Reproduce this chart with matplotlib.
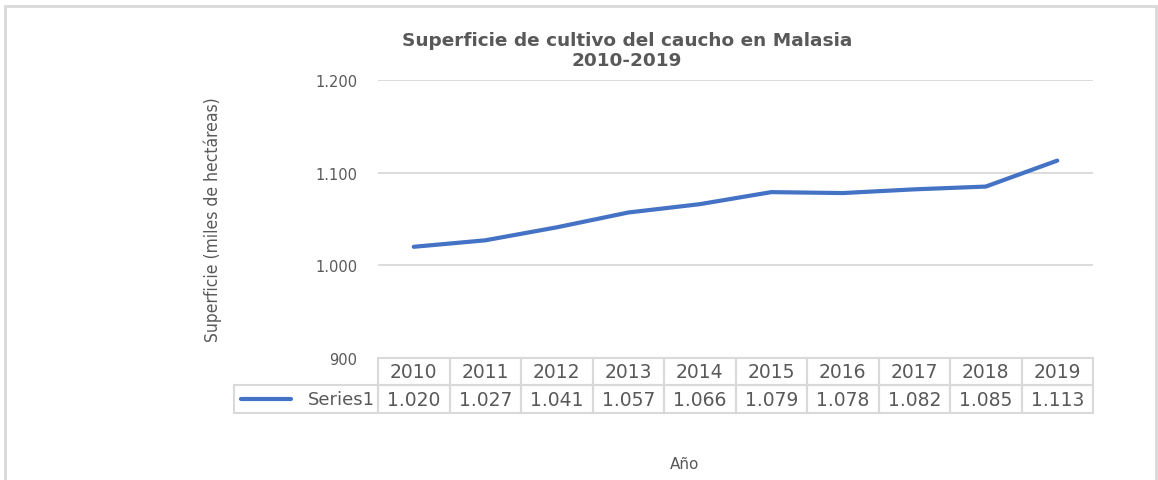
import matplotlib.pyplot as plt
from matplotlib.patches import Rectangle
from matplotlib.transforms import blended_transform_factory

# datos
anios = ["2010", "2011", "2012", "2013", "2014", "2015", "2016", "2017", "2018", "2019"]
superficie = [1020, 1027, 1041, 1057, 1066, 1079, 1078, 1082, 1085, 1113]
yticks = [900, 1000, 1100, 1200]
serie = "Series1"

azul = "#4472C4"
gris_txt = "#595959"
gris_lin = "#d9d9d9"


def miles(v):
    return f"{v:,}".replace(",", ".")


W, H = 1158, 481
fig = plt.figure(figsize=(W / 100, H / 100), dpi=100)

# marco del grafico
fig.add_artist(Rectangle((5 / W, -0.1), (1156 - 5) / W, 1.1 - 7 / H,
                         transform=fig.transFigure, fill=False,
                         edgecolor=gris_lin, lw=2))

ax = fig.add_axes([378 / W, 1 - 359 / H, (1093 - 378) / W, (359 - 81) / H])
x = list(range(len(anios)))
ax.plot(x, superficie, color=azul, lw=3, solid_capstyle="round")
ax.set_xlim(-0.5, len(anios) - 0.5)
ax.set_ylim(900, 1200)
ax.set_yticks(yticks)
ax.set_yticklabels([miles(v) for v in yticks], color=gris_txt, fontsize=10.5)
ax.tick_params(axis="y", length=0, pad=15)
ax.set_xticks([])
ax.grid(axis="y", color=gris_lin, lw=1.3)
ax.set_axisbelow(True)
for s in ax.spines.values():
    s.set_visible(False)

# tabla de datos
tr = blended_transform_factory(ax.transData, ax.transAxes)
px = 1 / (359 - 81)
y0, y1, y2 = 0, -27 * px, -55 * px
for i, a in enumerate(anios):
    ax.add_patch(Rectangle((i - 0.5, y1), 1, y0 - y1, transform=tr, fill=False,
                           edgecolor=gris_lin, lw=1.5, clip_on=False))
    ax.add_patch(Rectangle((i - 0.5, y2), 1, y1 - y2, transform=tr, fill=False,
                           edgecolor=gris_lin, lw=1.5, clip_on=False))
    ax.text(i, (y0 + y1) / 2, a, transform=tr, ha="center", va="center",
            color=gris_txt, fontsize=13.5)
    ax.text(i, (y1 + y2) / 2, miles(superficie[i]), transform=tr, ha="center",
            va="center", color=gris_txt, fontsize=13.5)

xl = -0.5 - 144 / 71.5
ax.add_patch(Rectangle((xl, y2), -0.5 - xl, y1 - y2, transform=tr, fill=False,
                       edgecolor=gris_lin, lw=1.5, clip_on=False))
ax.plot([xl + 0.1, xl + 0.8], [(y1 + y2) / 2] * 2, transform=tr, color=azul,
        lw=3, clip_on=False, solid_capstyle="round")
ax.text(-0.55, (y1 + y2) / 2, serie, transform=tr, ha="right", va="center",
        color=gris_txt, fontsize=13)

# textos
fig.text(627 / W, 1 - 51 / H, "Superficie de cultivo del caucho en Malasia\n2010-2019",
         ha="center", va="center", fontsize=13.3, fontweight="bold", color=gris_txt,
         linespacing=1.2)
fig.text(213 / W, 1 - 220 / H, "Superficie (miles de hectáreas)", rotation=90,
         ha="center", va="center", fontsize=12.5, color=gris_txt,
         fontstretch="condensed")
fig.text(685 / W, 1 - 465 / H, "Año", ha="center", va="center", fontsize=11,
         color=gris_txt)

plt.savefig("out.png", dpi=100)
